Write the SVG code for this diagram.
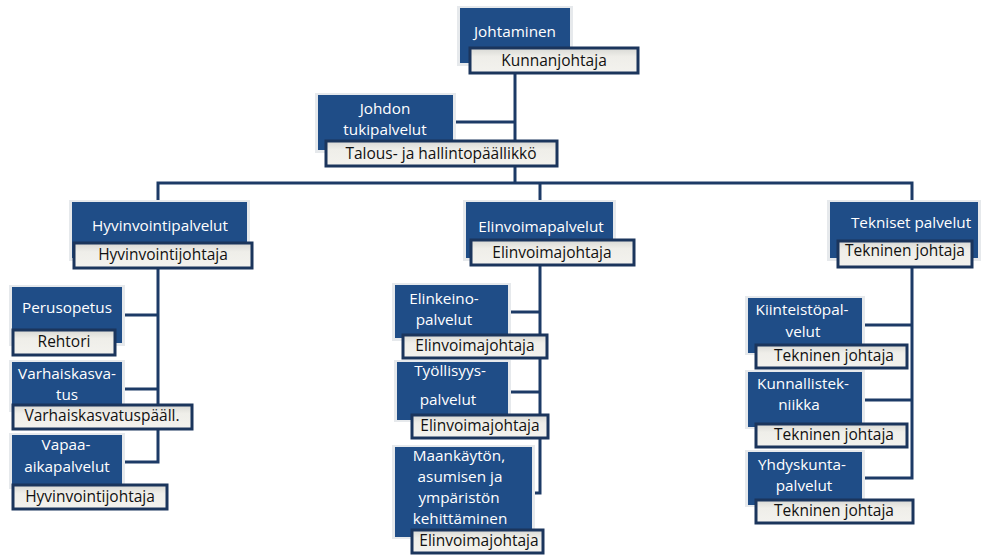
<svg xmlns="http://www.w3.org/2000/svg" width="984" height="557" viewBox="0 0 984 557">
<style>
.bg{fill:#ffffff}
.blue{fill:#1f4d87}
.glow{fill:#e6e9ec}
.lab{fill:url(#lg);stroke:#1b355c;stroke-width:3}
.wt{font-family:"Open Sans","Liberation Sans",sans-serif;font-size:15.3px;fill:#ffffff;text-anchor:middle}
.dt{font-family:"Open Sans","Liberation Sans",sans-serif;font-size:15.5px;fill:#111111;text-anchor:middle}
.con{fill:none;stroke:#1c3a66;stroke-width:3}
</style>
<defs>
<linearGradient id="lg" x1="0" y1="0" x2="0" y2="1">
<stop offset="0" stop-color="#d8d8d4"/>
<stop offset="0.35" stop-color="#efeee9"/>
<stop offset="1" stop-color="#f3f2ee"/>
</linearGradient>
</defs>
<rect class="bg" x="0" y="0" width="984" height="557"/>

<g id="connectors">
<path class="con" d="M515 73 V183"/>
<path class="con" d="M453 122 H515"/>
<path class="con" d="M158 200 V183 H912 V200"/>
<path class="con" d="M540 183 V202"/>
<path class="con" d="M158 268 V462 H124"/>
<path class="con" d="M122 315 H158"/>
<path class="con" d="M122 389 H158"/>
<path class="con" d="M540 265 V493 H532"/>
<path class="con" d="M508 312 H540"/>
<path class="con" d="M508 392 H540"/>
<path class="con" d="M912 267 V478 H862"/>
<path class="con" d="M862 325 H912"/>
<path class="con" d="M862 400 H912"/>
</g>

<g id="johtaminen">
<rect class="glow" x="457" y="6" width="116" height="60"/>
<rect class="blue" x="460" y="8" width="110" height="55"/>
<text class="wt" x="515" y="37">Johtaminen</text>
<rect class="lab" x="470" y="48" width="168" height="25"/>
<text class="dt" x="554" y="66">Kunnanjohtaja</text>
</g>

<g id="johdon-tukipalvelut">
<rect class="glow" x="315" y="93" width="141" height="60"/>
<rect class="blue" x="318" y="95" width="135" height="55"/>
<text class="wt" x="385" y="114">Johdon<tspan x="385" dy="21">tukipalvelut</tspan></text>
<rect class="lab" x="326" y="141" width="231" height="25"/>
<text class="dt" x="441" y="159">Talous- ja hallintopäällikkö</text>
</g>

<g id="hyvinvointipalvelut">
<rect class="glow" x="69" y="200" width="181" height="61"/>
<rect class="blue" x="72" y="202" width="175" height="56"/>
<text class="wt" x="160" y="231">Hyvinvointipalvelut</text>
<rect class="lab" x="74" y="243" width="178" height="25"/>
<text class="dt" x="163" y="260">Hyvinvointijohtaja</text>
</g>

<g id="perusopetus">
<rect class="glow" x="9" y="285" width="116" height="61"/>
<rect class="blue" x="12" y="287" width="110" height="56"/>
<text class="wt" x="67" y="313">Perusopetus</text>
<rect class="lab" x="13" y="330" width="102" height="25"/>
<text class="dt" x="64" y="347">Rehtori</text>
</g>

<g id="varhaiskasvatus">
<rect class="glow" x="9" y="360" width="116" height="52"/>
<rect class="blue" x="12" y="362" width="110" height="48"/>
<text class="wt" x="67" y="379">Varhaiskasva-<tspan x="67" dy="21">tus</tspan></text>
<rect class="lab" x="13" y="405" width="179" height="24"/>
<text class="dt" x="102" y="421">Varhaiskasvatuspääll.</text>
</g>

<g id="vapaa-aikapalvelut">
<rect class="glow" x="9" y="433" width="116" height="56"/>
<rect class="blue" x="12" y="435" width="110" height="52"/>
<text class="wt" x="66" y="450">Vapaa-<tspan x="67" dy="22">aikapalvelut</tspan></text>
<rect class="lab" x="13" y="485" width="154" height="24"/>
<text class="dt" x="90" y="502">Hyvinvointijohtaja</text>
</g>

<g id="elinvoimapalvelut">
<rect class="glow" x="463" y="200" width="153" height="61"/>
<rect class="blue" x="466" y="202" width="147" height="56"/>
<text class="wt" x="541" y="232">Elinvoimapalvelut</text>
<rect class="lab" x="471" y="240" width="163" height="25"/>
<text class="dt" x="552" y="258">Elinvoimajohtaja</text>
</g>

<g id="elinkeinopalvelut">
<rect class="glow" x="392" y="283" width="119" height="58"/>
<rect class="blue" x="395" y="285" width="113" height="53"/>
<text class="wt" x="444" y="304">Elinkeino-<tspan x="444" dy="21">palvelut</tspan></text>
<rect class="lab" x="403" y="335" width="144" height="23"/>
<text class="dt" x="475" y="351">Elinvoimajohtaja</text>
</g>

<g id="tyollisyyspalvelut">
<rect class="glow" x="394" y="360" width="117" height="62"/>
<rect class="blue" x="397" y="362" width="111" height="58"/>
<text class="wt" x="450" y="376">Työllisyys-<tspan x="448" dy="29">palvelut</tspan></text>
<rect class="lab" x="412" y="415" width="136" height="23"/>
<text class="dt" x="480" y="431">Elinvoimajohtaja</text>
</g>

<g id="maankaytto">
<rect class="glow" x="392" y="445" width="143" height="94"/>
<rect class="blue" x="395" y="447" width="137" height="90"/>
<text class="wt" x="459" y="461">Maankäytön,<tspan x="460" dy="21">asumisen ja</tspan><tspan x="459" dy="21">ympäristön</tspan><tspan x="460" dy="21">kehittäminen</tspan></text>
<rect class="lab" x="412" y="530" width="131" height="23"/>
<text class="dt" x="479" y="546">Elinvoimajohtaja</text>
</g>

<g id="tekniset-palvelut">
<rect class="glow" x="827" y="200" width="154" height="61"/>
<rect class="blue" x="830" y="202" width="148" height="56"/>
<text class="wt" x="911" y="228">Tekniset palvelut</text>
<rect class="lab" x="838" y="241" width="134" height="26"/>
<text class="dt" x="905" y="256">Tekninen johtaja</text>
</g>

<g id="kiinteistopalvelut">
<rect class="glow" x="745" y="296" width="120" height="59"/>
<rect class="blue" x="748" y="298" width="114" height="55"/>
<text class="wt" x="802" y="315">Kiinteistöpal-<tspan x="803" dy="22">velut</tspan></text>
<rect class="lab" x="756" y="345" width="151" height="23"/>
<text class="dt" x="834" y="361">Tekninen johtaja</text>
</g>

<g id="kunnallistekniikka">
<rect class="glow" x="745" y="370" width="120" height="59"/>
<rect class="blue" x="748" y="372" width="114" height="55"/>
<text class="wt" x="803" y="389">Kunnallistek-<tspan x="799" dy="21">niikka</tspan></text>
<rect class="lab" x="756" y="424" width="151" height="23"/>
<text class="dt" x="834" y="440">Tekninen johtaja</text>
</g>

<g id="yhdyskuntapalvelut">
<rect class="glow" x="745" y="450" width="120" height="57"/>
<rect class="blue" x="748" y="452" width="114" height="53"/>
<text class="wt" x="802" y="470">Yhdyskunta-<tspan x="804" dy="21">palvelut</tspan></text>
<rect class="lab" x="756" y="500" width="157" height="23"/>
<text class="dt" x="834" y="516">Tekninen johtaja</text>
</g>
</svg>
